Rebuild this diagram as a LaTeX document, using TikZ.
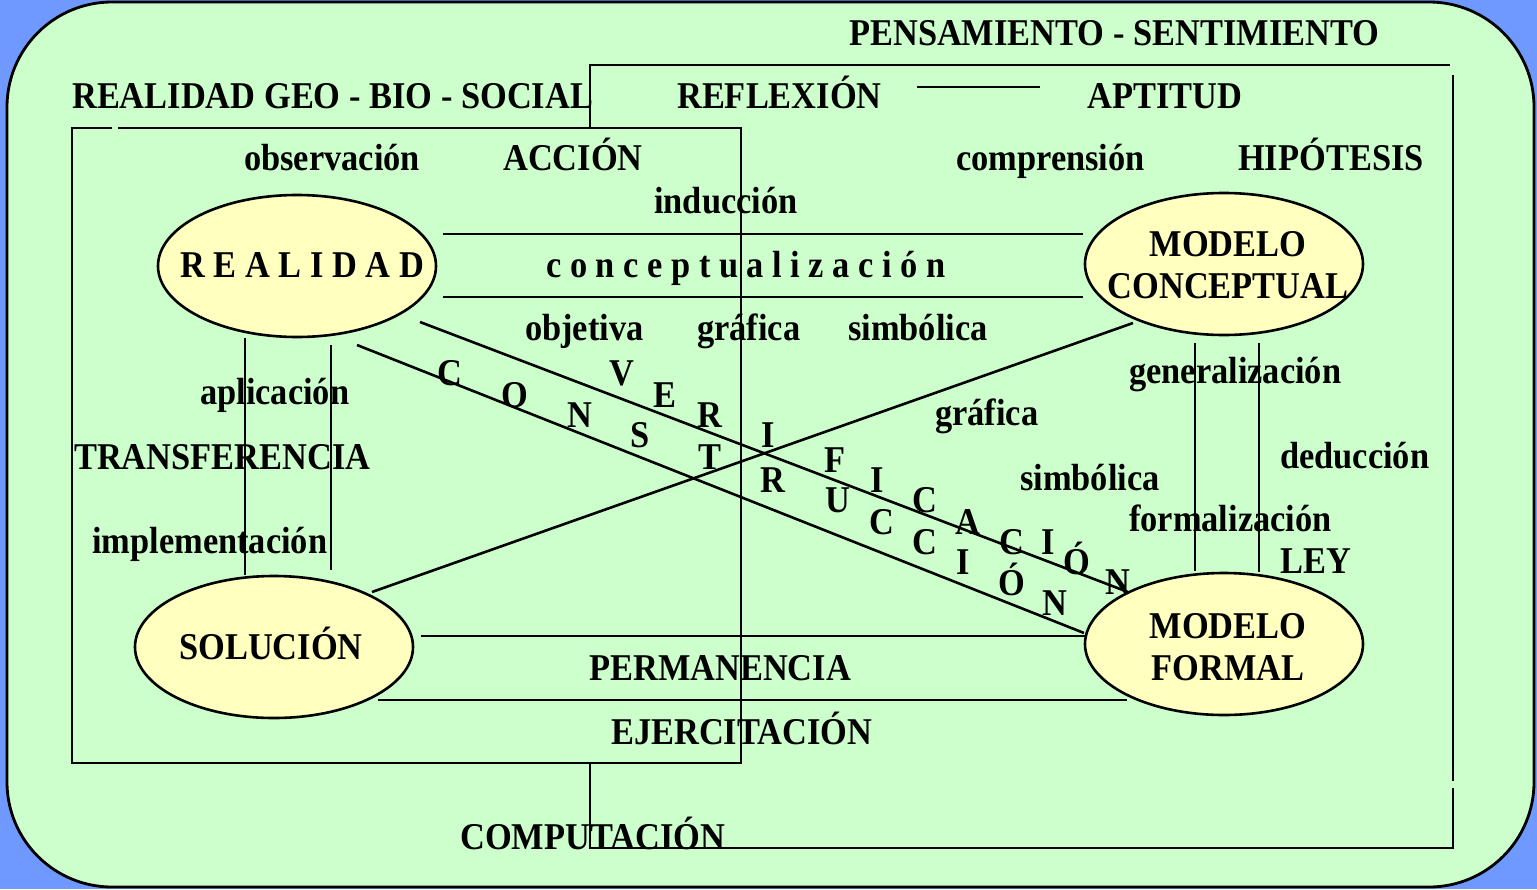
\documentclass[tikz,border=0pt]{standalone}
\usepackage{fontspec}
\usepackage{graphicx}
\setmainfont{Liberation Serif}
\usetikzlibrary{shapes.geometric}
\definecolor{bgblue}{RGB}{112,153,255}
\definecolor{panel}{RGB}{204,255,204}
\definecolor{oval}{RGB}{255,255,192}
\newcommand{\tx}[1]{\scalebox{1}[1.1]{#1}}
\begin{document}
\begin{tikzpicture}[x=1pt,y=-1pt,
  lbl/.style={inner sep=0pt, anchor=base west, font=\bfseries\fontsize{34.4}{40}\selectfont},
  lblc/.style={lbl, anchor=base},
  ln/.style={line width=2.6pt},
  ov/.style={ellipse, draw, line width=2.6pt, fill=oval, minimum width=278pt, minimum height=142pt, inner sep=0pt}]
\useasboundingbox (0,0) rectangle (1537,889);
\fill[bgblue] (0,0) rectangle (1537,889);
\draw[line width=2.8pt, fill=panel, rounded corners=105pt] (7,2) rectangle (1534,887);

% frames
\coordinate (lb1) at (72,128); \coordinate (lb2) at (112,128);
\coordinate (lb3) at (118,128); \coordinate (lb4) at (741,128);
\coordinate (lb5) at (741,763); \coordinate (lb6) at (72,763);
\draw[ln] (lb2) -- (lb1) -- (lb6) -- (lb5) -- (lb4) -- (lb3);
\coordinate (rb1) at (590,128); \coordinate (rb2) at (590,65);
\coordinate (rb3) at (1450,65); \coordinate (rb4) at (1453,75);
\coordinate (rb5) at (1453,781); \coordinate (rb6) at (1453,788);
\coordinate (rb7) at (1453,848); \coordinate (rb8) at (590,848);
\coordinate (rb9) at (590,763);
\draw[ln] (rb1) -- (rb2) -- (rb3);
\draw[ln] (rb4) -- (rb5);
\draw[ln] (rb6) -- (rb7) -- (rb8) -- (rb9);
\coordinate (ra1) at (917,87); \coordinate (ra2) at (1040,87);
\draw[ln] (ra1) -- (ra2);

% ellipses
\node[ov] (real) at (297,266) {};
\node[ov] (mc) at (1224,264) {};
\node[ov] (sol) at (274,647) {};
\node[ov] (mf) at (1224,644) {};

% connector lines
\coordinate (h1a) at (443,234); \coordinate (h1b) at (1083,234);
\coordinate (h2a) at (443,297); \coordinate (h2b) at (1083,297);
\coordinate (h3a) at (421,636); \coordinate (h3b) at (1085,636);
\coordinate (h4a) at (378,700); \coordinate (h4b) at (1127,700);
\draw[ln] (h1a) -- (h1b);
\draw[ln] (h2a) -- (h2b);
\draw[ln] (h3a) -- (h3b);
\draw[ln] (h4a) -- (h4b);
\coordinate (v1a) at (245,338); \coordinate (v1b) at (245,575);
\coordinate (v2a) at (331,345); \coordinate (v2b) at (331,570);
\coordinate (v3a) at (1195,343); \coordinate (v3b) at (1195,571);
\coordinate (v4a) at (1259,343); \coordinate (v4b) at (1259,572);
\draw[ln] (v1a) -- (v1b);
\draw[ln] (v2a) -- (v2b);
\draw[ln] (v3a) -- (v3b);
\draw[ln] (v4a) -- (v4b);
\coordinate (d1a) at (420,322); \coordinate (d1b) at (1128,592);
\coordinate (d2a) at (357,345); \coordinate (d2b) at (1084,633);
\coordinate (d3a) at (372,592); \coordinate (d3b) at (1133,323);
\draw[ln] (d1a) -- (d1b);
\draw[ln] (d2a) -- (d2b);
\draw[ln] (d3a) -- (d3b);

% labels
\node[lbl] (t1) at (849,45) {\tx{PENSAMIENTO - SENTIMIENTO}};
\node[lbl] (t2) at (72,108) {\tx{REALIDAD GEO - BIO - SOCIAL}};
\node[lbl] (t3) at (677,108) {\tx{REFLEXIÓN}};
\node[lbl] (t4) at (1087,108) {\tx{APTITUD}};
\node[lbl] (t5) at (244,170) {\tx{observación}};
\node[lbl] (t6) at (503,170) {\tx{ACCIÓN}};
\node[lbl] (t7) at (956,170) {\tx{comprensión}};
\node[lbl] (t8) at (1238,170) {\tx{HIPÓTESIS}};
\node[lbl] (t9) at (654,213) {\tx{inducción}};
\node[lbl] (t10) at (180,277) {\tx{R E A L I D A D}};
\node[lbl] (t11) at (546,277) {\tx{c o n c e p t u a l i z a c i ó n}};
\node[lblc] (t12) at (1228,256) {\tx{MODELO}};
\node[lblc] (t13) at (1228,298) {\tx{CONCEPTUAL}};
\node[lbl] (t14) at (525,340) {\tx{objetiva}};
\node[lbl] (t15) at (697,340) {\tx{gráfica}};
\node[lbl] (t16) at (848,340) {\tx{simbólica}};
\node[lbl] (t17) at (1129,383) {\tx{generalización}};
\node[lbl] (t18) at (200,404) {\tx{aplicación}};
\node[lbl] (t19) at (935,425) {\tx{gráfica}};
\node[lbl] (t20) at (74,469) {\tx{TRANSFERENCIA}};
\node[lbl] (t21) at (1280,468) {\tx{deducción}};
\node[lbl] (t22) at (1020,490) {\tx{simbólica}};
\node[lbl] (t23) at (1129,531) {\tx{formalización}};
\node[lbl] (t24) at (92,553) {\tx{implementación}};
\node[lbl] (t25) at (1280,573) {\tx{LEY}};
\node[lblc] (t26) at (1228,638) {\tx{MODELO}};
\node[lblc] (t27) at (1228,680) {\tx{FORMAL}};
\node[lbl] (t28) at (179,659) {\tx{SOLUCIÓN}};
\node[lbl] (t29) at (589,680) {\tx{PERMANENCIA}};
\node[lbl] (t30) at (611,744) {\tx{EJERCITACIÓN}};
\node[lbl] (t31) at (460,849) {\tx{COMPUTACIÓN}};

% CONSTRUCCIÓN (lower row of letters)
\foreach \ch/\x/\y [count=\i] in {C/450/373,O/515/395,N/580/415,S/640/435,T/710/457,R/773/480,U/838/500,C/882/522,C/925/542,I/963/562,Ó/1012/583,N/1055/603}
  \node[lblc] (cs\i) at (\x,\y+12) {\tx{\ch}};
% VERIFICACIÓN (upper row of letters)
\foreach \ch/\x/\y [count=\i] in {V/622/373,E/665/395,R/710/415,I/768/435,F/835/460,I/877/480,C/925/500,A/968/522,C/1012/542,I/1048/542,Ó/1077/562,N/1118/582}
  \node[lblc] (vf\i) at (\x,\y+12) {\tx{\ch}};
\end{tikzpicture}
\end{document}
